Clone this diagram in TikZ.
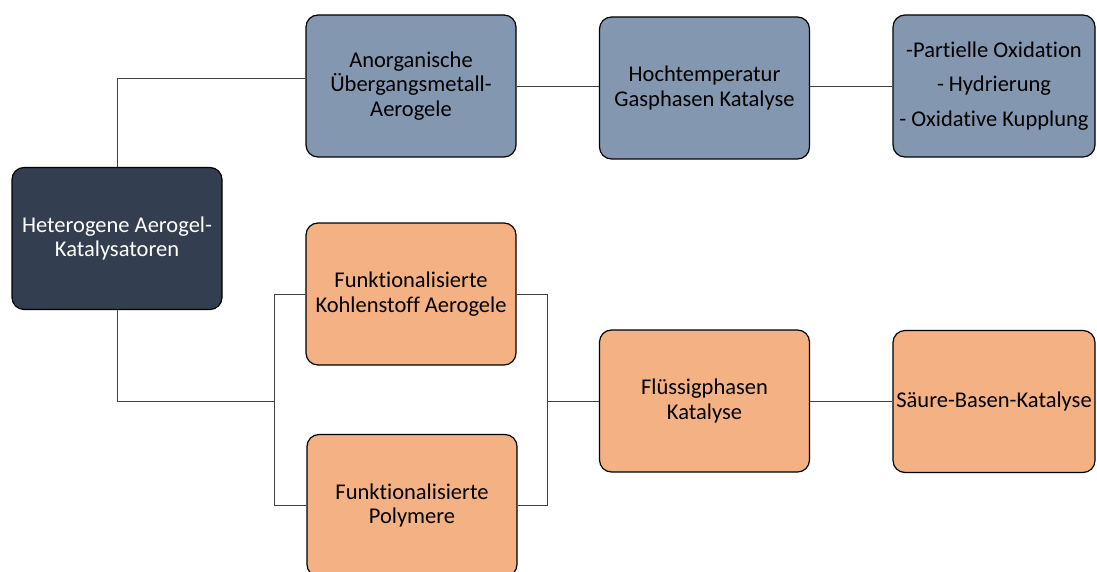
\documentclass[tikz,border=0pt]{standalone}
\usepackage{fontspec}
\setmainfont{Carlito}[Ligatures=NoCommon]
\usetikzlibrary{positioning,calc}
\definecolor{rootdark}{RGB}{51, 63, 80}
\definecolor{slateblue}{RGB}{132, 151, 176}
\definecolor{peach}{RGB}{244, 177, 131}
\definecolor{wiregray}{RGB}{64, 64, 64}

\begin{document}
\begin{tikzpicture}[
    x=1pt, y=-1pt,
    box/.style={draw=black, line width=1.2pt, rounded corners=12pt, align=center, inner sep=0pt,
        font=\fontsize{22.5}{24.5}\selectfont, minimum width=210pt, minimum height=142pt},
    rootbox/.style={box, fill=rootdark, text=white},
    inorg/.style={box, fill=slateblue},
    carbon/.style={box, fill=peach},
    link/.style={draw=wiregray, line width=0.9pt}
]
    \useasboundingbox (0,0) rectangle (1097,572);

    \node[rootbox] (root) at (117,238.5) {Heterogene Aerogel-\\Katalysatoren};

    % upper branch
    \node[inorg] (anorg) at (411,86) {Anorganische\\Übergangsmetall-\\Aerogele};
    \node[inorg] (hochtemp) at (704.5,88) {Hochtemperatur\\Gasphasen Katalyse};
    \node[inorg, minimum width=202pt] (reakt) at (994,86) {-Partielle Oxidation\\[10pt]- Hydrierung\\[10pt]- Oxidative Kupplung};

    % lower branch
    \node[carbon] (kohlen) at (411,294) {Funktionalisierte\\Kohlenstoff Aerogele};
    \node[carbon] (poly) at (412,505.5) {Funktionalisierte\\Polymere};
    \node[carbon] (fluess) at (704.5,401) {Flüssigphasen\\Katalyse};
    \node[carbon, minimum width=202pt] (saeure) at (994,401.5) {Säure-Basen-Katalyse};

    \coordinate (jleft) at (274,401);
    \coordinate (jright) at (547,401);

    \draw[link] (root.north) |- ($(anorg.west)+(0,-8)$);
    \draw[link] (anorg.east) -- (anorg.east -| hochtemp.west);
    \draw[link] (hochtemp.east |- reakt.west) -- (reakt.west);
    \draw[link] (root.south) |- (jleft);
    \draw[link] (jleft) |- (kohlen.west);
    \draw[link] (jleft) |- (poly.west);
    \draw[link] (kohlen.east) -| (jright);
    \draw[link] (poly.east) -| (jright);
    \draw[link] (jright) -- (fluess.west);
    \draw[link] (fluess.east) -- (fluess.east -| saeure.west);

\end{tikzpicture}
\end{document}
